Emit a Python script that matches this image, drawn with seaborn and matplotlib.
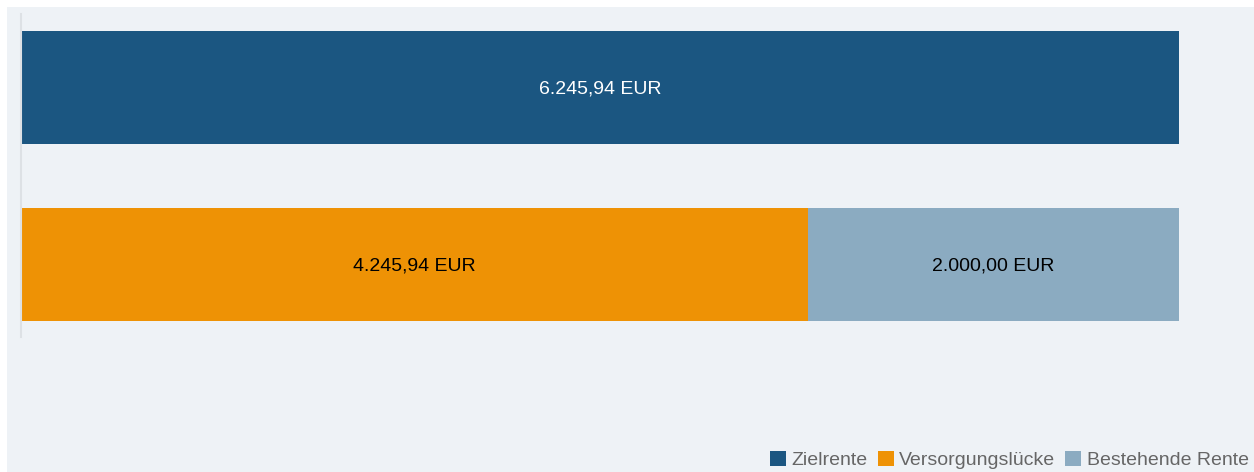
import matplotlib
matplotlib.use("Agg")
import matplotlib.pyplot as plt
from matplotlib.patches import Patch, Rectangle
import pandas as pd
import seaborn as sns

# values
rows = ["Ziel", "Aufteilung"]
series = ["Zielrente", "Versorgungslücke", "Bestehende Rente"]
zielrente = 6245.94
versorgungsluecke = 4245.94
bestehende_rente = 2000.00

colors = {"Zielrente": "#1b5681", "Versorgungslücke": "#ee9205", "Bestehende Rente": "#8babc1"}
panel_color = "#eef2f6"


def eur(v):
    s = f"{v:,.2f}".replace(",", "X").replace(".", ",").replace("X", ".")
    return f"{s} EUR"


sns.set_theme(style="white")
plt.rcParams["font.family"] = ["Liberation Sans", "DejaVu Sans"]

W, H = 1254, 472
fig = plt.figure(figsize=(W / 100, H / 100), dpi=100, facecolor="white")
fig.patches.append(Rectangle((7 / W, 0), 1, 1 - 7 / H, transform=fig.transFigure,
                             facecolor=panel_color, edgecolor="none", zorder=-10))

ax = fig.add_axes([21 / W, 1 - 337 / H, (1158 * 1.05) / W, 323 / H])
ax.set_facecolor("none")

# back layer: full bars (Zielrente on top row, total of both parts on bottom row)
back = pd.DataFrame({
    "row": rows,
    "value": [zielrente, versorgungsluecke + bestehende_rente],
    "series": ["Zielrente", "Bestehende Rente"],
})
sns.barplot(data=back, x="value", y="row", hue="series", order=rows, orient="h",
            palette=colors, width=0.64, dodge=False, legend=False, ax=ax,
            saturation=1, linewidth=0)

# front layer: the gap, drawn over the bottom bar
front = pd.DataFrame({"row": [rows[1]], "value": [versorgungsluecke], "series": ["Versorgungslücke"]})
sns.barplot(data=front, x="value", y="row", hue="series", order=rows, orient="h",
            palette=colors, width=0.64, dodge=False, legend=False, ax=ax,
            saturation=1, linewidth=0)

# labels in the middle of each segment
label_kw = dict(ha="center", va="center_baseline", fontsize=14)
ax.text(zielrente / 2, 0, eur(zielrente), color="white", **label_kw)
ax.text(versorgungsluecke / 2, 1, eur(versorgungsluecke), color="black", **label_kw)
ax.text(versorgungsluecke + bestehende_rente / 2, 1, eur(bestehende_rente), color="black", **label_kw)

ax.set_xlim(0, zielrente * 1.05)
ax.set_ylim(1.41, -0.415)
ax.set_xlabel("")
ax.set_ylabel("")
ax.set_xticks([])
ax.set_yticks([])
for side in ["top", "right", "bottom"]:
    ax.spines[side].set_visible(False)
ax.spines["left"].set_color("#dde1e5")
ax.spines["left"].set_linewidth(1.5)

handles = [Patch(facecolor=colors[s], edgecolor="none", label=s) for s in series]
fig.legend(handles=handles, loc="lower right", bbox_to_anchor=(1249 / W, 3 / H), ncol=3,
           frameon=False, fontsize=14, labelcolor="#666666", handlelength=0.82,
           handleheight=0.82, handletextpad=0.3, columnspacing=0.5,
           borderpad=0, borderaxespad=0)

fig.savefig("out.png", dpi=100, facecolor="white")
